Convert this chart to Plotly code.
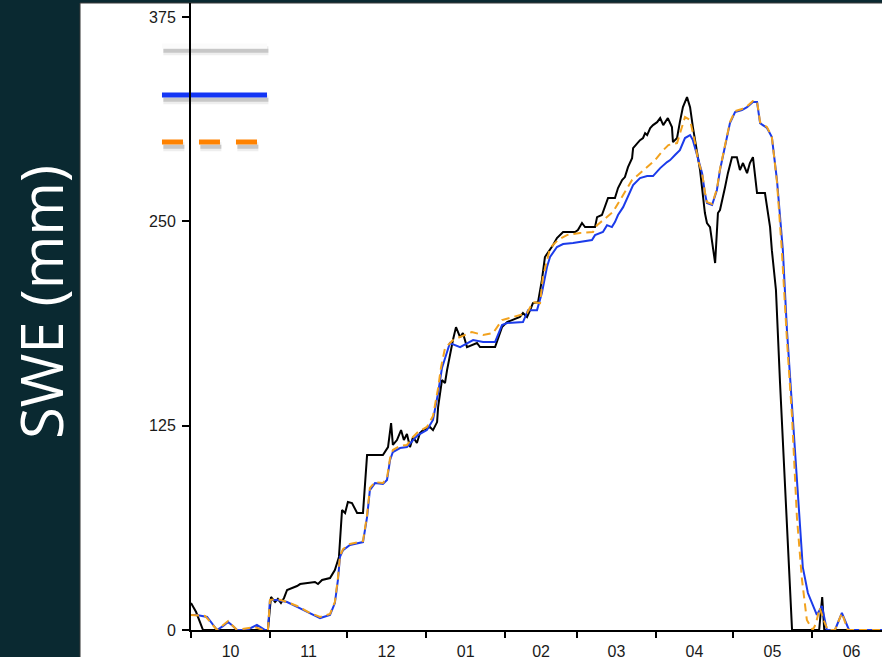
import pandas as pd
import plotly.graph_objects as go

# Snow water equivalent through one water year (days counted from 1 October)
season_start = pd.Timestamp("2010-10-01")

obs_day = [0, 2.0, 4.7, 30.1, 31.3, 32.9, 34.0, 35.2, 36.4, 37.6, 41.5, 42.7, 48.5, 49.7,
           51.3, 54.4, 56.3, 57.9, 59.1, 60.3, 61.4, 63.0, 65.0, 67.3, 68.9, 75.1, 77.1,
           78.3, 79.0, 80.6, 82.2, 83.3, 84.5, 85.7, 86.9, 88.4, 89.6, 90.8, 93.5, 94.7,
           96.3, 96.7, 98.2, 99.4, 100.2, 101.3, 102.5, 103.7, 105.3, 106.4, 108.0, 111.9,
           113.1, 119.0, 121.7, 123.7, 128.7, 129.9, 131.5, 132.7, 133.8, 135.8, 137.3,
           138.5, 140.5, 141.7, 143.2, 145.6, 150.3, 151.4, 153.0, 154.2, 158.1, 158.9,
           160.8, 162.0, 163.2, 165.9, 167.1, 168.7, 169.8, 171.0, 172.6, 173.0, 174.5,
           175.7, 176.9, 177.7, 178.5, 179.7, 180.8, 182.4, 183.6, 184.8, 186.6, 188.2,
           188.6, 190.2, 191.3, 192.5, 194.1, 195.3, 196.4, 199.2, 201.1, 201.9, 203.1,
           205.1, 206.2, 207.0, 209.0, 210.1, 211.7, 213.6, 214.8, 216.0, 217.6, 218.7,
           219.9, 221.5, 224.6, 226.6, 227.3, 228.9, 230.5, 232.4, 235.2, 245.8, 247.0,
           247.8, 270.4]
obs_swe = [16.5, 11.0, 0, 0, 20.2, 17.1, 19.0, 16.5, 19.6, 24.5, 26.9, 28.1, 29.4, 28.1,
           30.6, 31.8, 36.7, 44.7, 73.4, 71.6, 78.3, 77.7, 71.6, 71.6, 107.0, 107.0, 111.9,
           126.6, 113.2, 116.2, 122.3, 116.2, 119.9, 111.9, 118.1, 114.4, 120.5, 122.3,
           124.2, 122.3, 127.2, 136.4, 152.9, 151.1, 159.0, 168.2, 177.4, 185.3, 179.2,
           181.7, 173.1, 175.6, 173.1, 173.1, 185.3, 188.4, 191.5, 193.9, 191.5, 195.7,
           200.0, 200.6, 214.1, 228.2, 232.4, 235.5, 239.8, 243.5, 243.5, 244.7, 249.0,
           246.5, 246.5, 252.6, 253.9, 258.7, 264.3, 264.3, 270.4, 275.3, 277.1, 283.2,
           288.7, 294.8, 297.9, 299.7, 301.0, 304.0, 302.8, 307.1, 308.9, 310.7, 313.2,
           308.9, 313.2, 307.7, 298.5, 301.0, 310.7, 319.9, 326.0, 319.9, 307.7, 281.4,
           255.1, 249.0, 246.5, 224.5, 255.1, 256.9, 271.0, 279.5, 289.3, 289.3, 281.4,
           285.7, 279.5, 285.7, 289.3, 267.3, 267.3, 246.5, 232.4, 208.0, 151.1, 89.9, 0,
           0, 20.2, 0, 0]

mod_day = [0, 2.3, 6.3, 10.2, 12.5, 14.5, 16.4, 18.0, 21.9, 23.9, 25.8, 27.8, 29.0, 30.1,
           30.9, 33.7, 37.6, 41.5, 46.6, 50.5, 54.4, 56.3, 57.5, 58.3, 59.5, 62.2, 67.3,
           68.9, 70.0, 72.0, 75.1, 76.7, 77.9, 79.0, 81.8, 84.5, 86.9, 88.8, 92.3, 94.7,
           96.7, 98.2, 100.2, 101.3, 105.3, 108.0, 110.4, 114.3, 119.0, 121.7, 123.7,
           129.9, 131.9, 135.4, 137.3, 139.3, 140.5, 143.2, 145.6, 149.5, 152.2, 156.9,
           158.1, 161.2, 162.8, 164.7, 165.9, 167.1, 169.1, 171.0, 173.0, 175.7, 178.5,
           180.8, 183.6, 186.3, 187.5, 189.4, 191.3, 193.3, 195.3, 196.4, 198.4, 200.0,
           201.1, 201.9, 203.9, 205.8, 207.0, 209.0, 210.9, 212.9, 215.6, 217.6, 219.9,
           221.5, 222.7, 225.4, 227.3, 229.3, 231.6, 233.2, 235.5, 237.5, 239.4, 241.4,
           244.1, 244.9, 246.9, 248.8, 252.0, 254.7, 257.5, 270.4]
mod_swe = [9.2, 9.2, 8.0, 0, 2.4, 4.9, 2.4, 0, 0, 1.8, 3.1, 1.2, 0, 0, 18.4, 18.4, 17.1,
           14.1, 10.4, 7.3, 9.2, 16.5, 30.6, 44.7, 48.9, 52.0, 53.8, 69.1, 85.6, 89.9, 89.3,
           91.8, 104.0, 108.9, 111.3, 111.9, 116.2, 119.3, 122.3, 128.5, 145.0, 160.3,
           170.1, 175.6, 173.1, 175.6, 177.4, 176.2, 176.2, 186.6, 187.8, 188.4, 195.7,
           195.7, 206.1, 222.1, 228.2, 234.3, 236.1, 236.7, 237.3, 238.6, 241.6, 243.5,
           247.7, 246.5, 249.6, 253.9, 258.7, 264.9, 272.2, 276.5, 277.7, 277.7, 282.6,
           286.3, 287.5, 290.6, 293.6, 301.0, 302.8, 299.7, 287.5, 279.5, 267.3, 261.2,
           260.0, 269.2, 281.4, 295.5, 310.1, 316.9, 318.1, 319.9, 323.0, 323.0, 310.1,
           307.1, 301.6, 275.3, 232.4, 183.5, 130.3, 79.5, 38.5, 22.6, 12.2, 9.2, 14.7, 0,
           0, 10.4, 0, 0]

alt_day = [0, 5.5, 10.2, 14.5, 18.0, 25.0, 28.2, 30.1, 30.9, 33.7, 37.6, 41.5, 46.6, 50.5,
           54.4, 56.3, 57.5, 58.3, 59.5, 62.2, 67.3, 68.9, 70.0, 72.0, 75.1, 76.7, 77.9,
           79.0, 81.8, 84.5, 86.9, 88.8, 92.3, 94.7, 96.7, 97.8, 99.4, 102.5, 109.9, 114.3,
           118.2, 121.7, 126.0, 131.5, 133.8, 136.6, 137.7, 140.5, 143.6, 147.1, 152.2,
           157.3, 158.9, 162.8, 165.1, 167.9, 170.6, 172.6, 174.9, 178.5, 181.6, 184.8,
           186.8, 190.2, 192.1, 193.3, 195.3, 197.2, 198.4, 200.0, 201.1, 201.9, 203.9,
           205.8, 207.0, 209.0, 210.9, 212.9, 215.6, 217.6, 219.9, 221.5, 222.7, 225.4,
           227.3, 229.3, 231.2, 233.2, 235.2, 237.1, 239.1, 241.0, 243.3, 244.5, 246.0,
           248.0, 249.2, 252.0, 254.7, 257.0, 270.4]
alt_swe = [9.2, 8.6, 0, 5.5, 0, 1.8, 0, 0, 18.4, 19.0, 17.1, 14.7, 10.4, 8.0, 9.8, 17.1,
           31.8, 45.3, 49.5, 52.6, 54.4, 70.3, 86.9, 90.5, 89.9, 93.0, 105.2, 110.1, 112.6,
           113.2, 118.1, 121.1, 124.2, 130.9, 148.0, 160.3, 172.5, 177.4, 182.3, 180.5,
           181.7, 189.6, 191.5, 193.9, 200.6, 200.0, 215.9, 233.7, 238.6, 241.6, 242.9,
           243.5, 247.7, 252.6, 255.7, 263.0, 270.4, 275.3, 278.3, 283.2, 287.5, 293.6,
           296.7, 297.9, 307.7, 313.8, 312.0, 298.5, 287.5, 279.5, 267.9, 261.8, 260.6,
           269.8, 282.0, 296.1, 310.7, 317.5, 318.7, 320.5, 323.6, 323.6, 310.7, 307.7,
           301.6, 274.1, 232.4, 177.4, 130.3, 69.1, 30.6, 6.1, 0, 3.7, 13.5, 4.3, 0, 0,
           10.4, 0, 0]

y_ticks = [0, 125, 250, 375]
y_top = 383.6
x_end_day = 270.4


def to_dates(days):
    return season_start + pd.to_timedelta(days, unit="D")


BG = "#0a2931"
fig = go.Figure()

fig.add_trace(go.Scatter(x=to_dates(obs_day), y=obs_swe, mode="lines",
                         line=dict(color="#000000", width=2), showlegend=False))
fig.add_trace(go.Scatter(x=to_dates(mod_day), y=mod_swe, mode="lines",
                         line=dict(color="#1b3bea", width=2), showlegend=False))
fig.add_trace(go.Scatter(x=to_dates(alt_day), y=alt_swe, mode="lines",
                         line=dict(color="#f2a21e", width=2, dash="8px,5px"),
                         showlegend=False))

shapes = [
    # white card behind the chart
    dict(type="rect", xref="paper", yref="paper", x0=-0.1606, x1=1.01, y0=-0.06, y1=1.0,
         fillcolor="white", line=dict(color="#3a3a3a", width=1), layer="below"),
]

# line key in the upper-left corner (with soft drop shadows)
key_x0, key_x1 = -0.042, 0.110
key_rows = [
    (0.9314, "#fbfbfb", None),
    (0.8533, "#1436f5", None),
    (0.7783, "#ff8200", "21px,16px"),
]
for ky, kcol, kdash in key_rows:
    off = -0.0075
    shapes.append(dict(type="line", xref="paper", yref="paper", x0=key_x0 + 0.002,
                       x1=key_x1 + 0.002, y0=ky + off, y1=ky + off, layer="below",
                       line=dict(color="rgba(120,120,120,0.13)", width=9,
                                 dash=kdash or "solid")))
    shapes.append(dict(type="line", xref="paper", yref="paper", x0=key_x0 + 0.002,
                       x1=key_x1 + 0.002, y0=ky + off, y1=ky + off, layer="below",
                       line=dict(color="rgba(110,110,110,0.3)", width=4,
                                 dash=kdash or "solid")))
    shapes.append(dict(type="line", xref="paper", yref="paper", x0=key_x0, x1=key_x1,
                       y0=ky, y1=ky, layer="below",
                       line=dict(color=kcol, width=5, dash=kdash or "solid")))

fig.update_layout(
    width=882, height=657,
    margin=dict(l=191, r=0, t=3, b=27),
    paper_bgcolor=BG, plot_bgcolor="rgba(0,0,0,0)",
    shapes=shapes,
    showlegend=False,
    font=dict(family="Liberation Sans, Arial, sans-serif", size=16, color="#111"),
    annotations=[dict(text="SWE (mm)", xref="paper", yref="paper", x=-0.2185, y=0.523,
                      xanchor="center", yanchor="middle", textangle=-90, showarrow=False,
                      font=dict(family="Open Sans", size=58, color="white"))],
)

fig.update_xaxes(
    type="date",
    range=[season_start, to_dates([x_end_day])[0]],
    tick0=season_start, dtick="M1", tickformat="%m", ticklabelmode="period",
    ticks="outside", ticklen=6, tickwidth=1.5, tickcolor="black",
    showline=True, linewidth=2, linecolor="black",
    showgrid=False, zeroline=False, automargin=False,
    tickfont=dict(size=16, color="#1a1a1a"),
)
fig.update_yaxes(
    range=[0, y_top], tickvals=y_ticks, ticktext=[str(v) for v in y_ticks],
    ticks="outside", ticklen=7, tickwidth=1.5, tickcolor="black",
    showline=True, linewidth=2, linecolor="black",
    showgrid=False, zeroline=False, ticklabelstandoff=3, automargin=False,
    tickfont=dict(size=16, color="#1a1a1a"),
)

fig.write_html("out.html")
